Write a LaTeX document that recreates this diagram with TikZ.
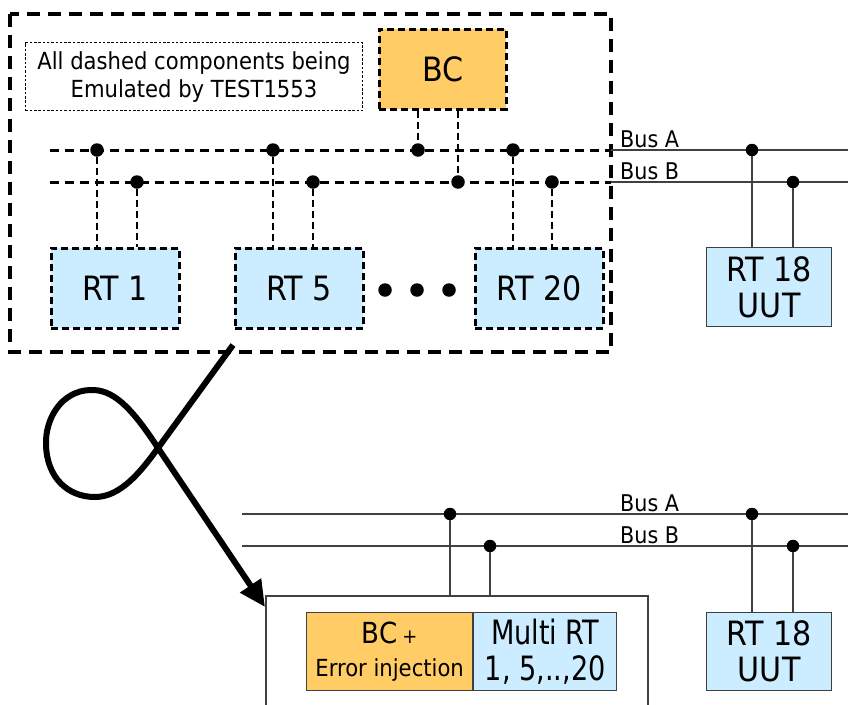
\documentclass[tikz,border=0pt]{standalone}
\usepackage{fontspec}
\setmainfont{DejaVu Sans Condensed}
\usetikzlibrary{arrows.meta}
\definecolor{bcorange}{HTML}{FFCC66}
\definecolor{rtblue}{HTML}{CCECFF}
\definecolor{wire}{HTML}{404040}
\newcommand{\fsz}[2]{\fontsize{#1}{#2}\selectfont}
\newcommand{\narrow}[1]{\scalebox{0.9}[1]{#1}}
\begin{document}
\begin{tikzpicture}[x=1pt,y=-1pt,
  emuframe/.style={draw=black,line width=3.5pt,dash pattern=on 13pt off 8pt},
  emubox/.style={draw=black,line width=2.5pt,dash pattern=on 7pt off 4pt,
    inner sep=0pt,anchor=north west,font=\fsz{33.5}{36},align=center},
  realbox/.style={draw=wire,line width=1.3pt,inner sep=0pt,anchor=north west,
    font=\fsz{33.5}{36},align=center},
  notebox/.style={draw=black,line width=1.1pt,dash pattern=on 2.5pt off 1.8pt,
    inner sep=0pt,anchor=north west,align=center,font=\fsz{23.5}{28}},
  emubus/.style={line width=3pt,dash pattern=on 9pt off 6pt},
  emuwire/.style={line width=2pt,dash pattern=on 7pt off 4pt},
  realwire/.style={draw=wire,line width=1.3pt},
  jdot/.style={circle,fill=black,inner sep=0pt,minimum size=12.5pt},
  emudot/.style={jdot,minimum size=13.5pt},
  buslabel/.style={anchor=base west,inner sep=0pt,font=\fsz{23}{26}},
  bigarrow/.style={line width=6pt,-{Triangle[length=26pt,width=24pt]}}]

\useasboundingbox (0,0) rectangle (848,704);

% ---------- emulated setup ----------
\draw[emuframe] (10,14) rectangle (611,352);

\node[notebox,minimum width=337pt,minimum height=68pt] (note) at (25,42)
  {All dashed components being\\Emulated by TEST1553};
\node[emubox,fill=bcorange,minimum width=127pt,minimum height=80pt] (bc) at (378,28) {BC};

\node[emubox,fill=rtblue,minimum width=128pt,minimum height=80pt] (rt1) at (50,247) {RT 1};
\node[emubox,fill=rtblue,minimum width=128pt,minimum height=80pt] (rt5) at (234,247) {RT 5};
\node[emubox,fill=rtblue,minimum width=128pt,minimum height=80pt] (rt20) at (474,247) {RT 20};
\node[realbox,fill=rtblue,minimum width=125pt,minimum height=79pt] (rt18) at (706,247) {RT 18\\UUT};

% buses
\coordinate (bAw) at (50,150);  \coordinate (bAm) at (611,150); \coordinate (bAe) at (848,150);
\coordinate (bBw) at (50,182);  \coordinate (bBm) at (611,182); \coordinate (bBe) at (848,182);
\draw[emubus] (bAw) -- (bAm);
\draw[emubus] (bBw) -- (bBm);
\draw[realwire] (bAm) -- (bAe);
\draw[realwire] (bBm) -- (bBe);
\node[buslabel] (labA) at (620,147) {Bus A};
\node[buslabel] (labB) at (620,179) {Bus B};

% junctions on the buses
\node[emudot] (a1)  at (97,150)  {};
\node[emudot] (b1)  at (137,182) {};
\node[emudot] (a5)  at (273,150) {};
\node[emudot] (b5)  at (313,182) {};
\node[emudot] (abc) at (418,150) {};
\node[emudot] (bbc) at (458,182) {};
\node[emudot] (a20) at (513,150) {};
\node[emudot] (b20) at (552,182) {};
\node[jdot] (a18) at (752,150) {};
\node[jdot] (b18) at (793,182) {};

% stubs
\draw[emuwire] (a1) -- (a1 |- rt1.north);
\draw[emuwire] (b1) -- (b1 |- rt1.north);
\draw[emuwire] (a5) -- (a5 |- rt5.north);
\draw[emuwire] (b5) -- (b5 |- rt5.north);
\draw[emuwire] (a20) -- (a20 |- rt20.north);
\draw[emuwire] (b20) -- (b20 |- rt20.north);
\draw[emuwire] (bc.south -| abc) -- (abc);
\draw[emuwire] (bc.south -| bbc) -- (bbc);
\draw[realwire] (a18) -- (a18 |- rt18.north);
\draw[realwire] (b18) -- (b18 |- rt18.north);

% ellipsis between RT 5 and RT 20
\node[emudot] (e1) at (385,290) {};
\node[emudot] (e2) at (417,290) {};
\node[emudot] (e3) at (449,290) {};

% ---------- twisted arrow ----------
\coordinate (tw0) at (233,345);
\coordinate (twx) at (158,448);
\coordinate (tw1) at (265,607);
\draw[bigarrow] (tw0) -- (twx)
  .. controls (140,473) and (120,497) .. (95,497)
  .. controls (68,497) and (47,478) .. (46,445)
  .. controls (45,418) and (62,391) .. (90,390)
  .. controls (112,389) and (130,405) .. (twx)
  -- (tw1);

% ---------- real setup ----------
\coordinate (fA) at (266,710);
\coordinate (fB) at (266,596);
\coordinate (fC) at (648,596);
\coordinate (fD) at (648,710);
\draw[realwire] (fA) -- (fB) -- (fC) -- (fD);

\node[realbox,fill=bcorange,minimum width=166pt,minimum height=78pt,font=\fsz{29}{33}] (bcp) at (306,612)
  {BC\,{\fsz{20}{33}+}\\{\fsz{23.5}{33}Error injection}};
\node[realbox,fill=rtblue,minimum width=143pt,minimum height=78pt] (mrt) at (473,612)
  {\narrow{Multi RT}\\\narrow{1, 5,..,20}};
\node[realbox,fill=rtblue,minimum width=125pt,minimum height=78pt] (rt18b) at (706,612)
  {RT 18\\UUT};

\coordinate (cAw) at (242,514); \coordinate (cAe) at (848,514);
\coordinate (cBw) at (242,546); \coordinate (cBe) at (848,546);
\draw[realwire] (cAw) -- (cAe);
\draw[realwire] (cBw) -- (cBe);
\node[buslabel] (labA2) at (620,511) {Bus A};
\node[buslabel] (labB2) at (620,543) {Bus B};

\node[jdot] (ca) at (450,514) {};
\node[jdot] (cb) at (490,546) {};
\node[jdot] (ca18) at (752,514) {};
\node[jdot] (cb18) at (793,546) {};
\draw[realwire] (ca) -- (ca |- fB);
\draw[realwire] (cb) -- (cb |- fB);
\draw[realwire] (ca18) -- (ca18 |- rt18b.north);
\draw[realwire] (cb18) -- (cb18 |- rt18b.north);
\end{tikzpicture}
\end{document}
